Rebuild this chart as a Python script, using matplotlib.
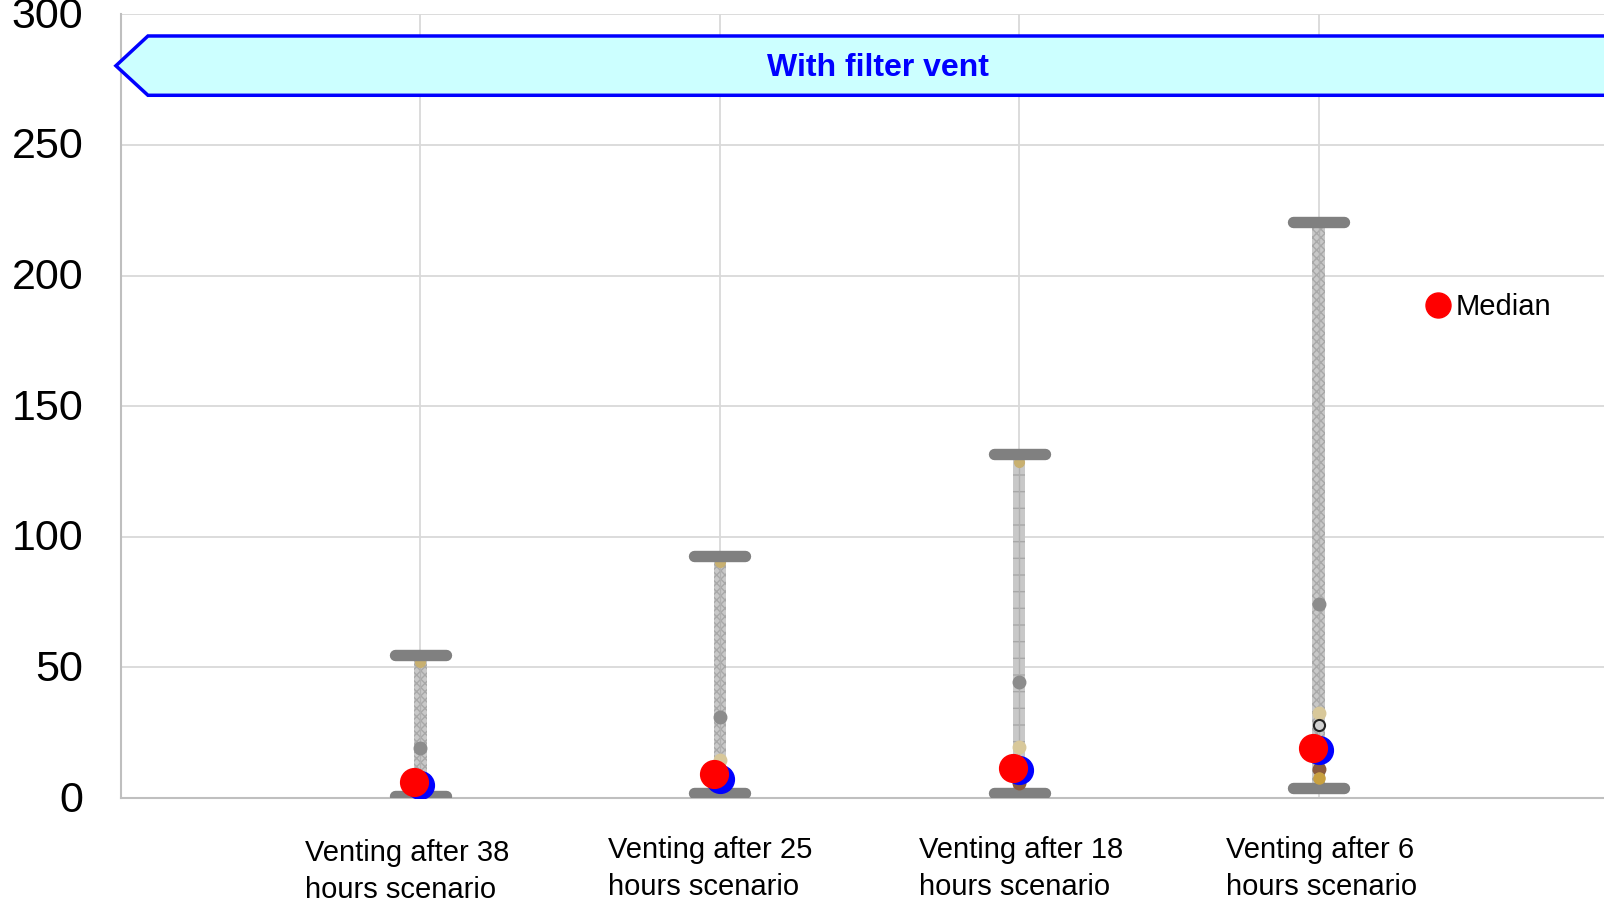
import numpy as np
import matplotlib
matplotlib.use("Agg")
from matplotlib import pyplot as plt
from matplotlib.patches import Polygon
from matplotlib.lines import Line2D
from matplotlib.transforms import ScaledTranslation, blended_transform_factory

plt.rcParams['font.family'] = ['Liberation Sans', 'DejaVu Sans']

categories = ["Venting after 38\nhours scenario", "Venting after 25\nhours scenario",
              "Venting after 18\nhours scenario", "Venting after 6\nhours scenario"]
max_vals = [54.7, 92.6, 131.5, 220.4]
min_vals = [0.8, 1.9, 1.9, 3.8]
mean_vals = [19.1, 31.1, 44.4, 74.2]
median_vals = [6.1, 9.2, 11.5, 19.3]
blue_vals = [5.0, 7.3, 10.7, 18.4]
tan_vals = [np.nan, 14.5, 19.6, 32.4]
tan_top_vals = [52.2, 90.4, 128.7, np.nan]
brown_vals = [np.nan, np.nan, 5.7, 11.0]
gold_vals = [np.nan, np.nan, np.nan, 7.5]
open_vals = [np.nan, np.nan, np.nan, 27.9]

# label layout tweaks (pixels)
label_dx = [-12.8, -9.2, 1.5, 3.1]
label_dy = [-3, 0, 0, 0]

x = np.arange(1, len(categories) + 1)

fig = plt.figure(figsize=(16.04, 9.01), dpi=100)
ax = fig.add_axes([121/1604, 1 - 798/901, 1 - 121/1604, (798 - 14.3)/901])
ax.set_xlim(0, (1604 - 121)/299.4)
ax.set_ylim(0, 300)

# grid
ax.set_yticks(np.arange(0, 301, 50))
ax.set_xticks(x)
ax.set_xticklabels([])
ax.tick_params(axis='y', labelsize=31, length=0, pad=27)
ax.tick_params(axis='x', length=0)
for lbl in ax.get_yticklabels():
    lbl.set_transform(lbl.get_transform() + ScaledTranslation(0, 2/100, fig.dpi_scale_trans))
ax.grid(True, color='#d9d9d9', linewidth=1.3)
ax.set_axisbelow(True)
for s in ['top', 'right']:
    ax.spines[s].set_visible(False)
for s in ['left', 'bottom']:
    ax.spines[s].set_color('#bfbfbf')
    ax.spines[s].set_linewidth(1.5)

# category labels
trans = blended_transform_factory(ax.transData, ax.transAxes)
for i in range(len(x)):
    t = trans + ScaledTranslation(label_dx[i]/100, (-38 + label_dy[i])/100, fig.dpi_scale_trans)
    ax.text(x[i], 0, categories[i], transform=t, fontsize=21, ha='center', va='top',
            multialignment='left', linespacing=1.4)

# range bars
heights = [mx - mn for mx, mn in zip(max_vals, min_vals)]
hatches = ['xxxx', 'xxxx', '-', 'xxxx']
for i in range(len(x)):
    ax.bar(x[i], heights[i], bottom=min_vals[i], width=0.042, color='#c8c8c8',
           edgecolor='#a8a8a8', hatch=hatches[i], linewidth=0, zorder=2)
ax.vlines(x, min_vals, max_vals, color='#b0b0b0', linewidth=1, zorder=2)

# caps
for i in range(len(x)):
    ax.plot([x[i] - 0.085, x[i] + 0.085], [max_vals[i], max_vals[i]], color='#808080',
            linewidth=8.2, solid_capstyle='round', zorder=3)
    ax.plot([x[i] - 0.085, x[i] + 0.085], [min_vals[i], min_vals[i]], color='#808080',
            linewidth=8.2, solid_capstyle='round', zorder=3)

# dots
ax.plot(x, mean_vals, 'o', color='#8c8c8c', ms=9, zorder=4)
ax.plot(x, tan_top_vals, 'o', color='#c8b070', ms=7, zorder=2.5)
ax.plot(x, tan_vals, 'o', color='#d8c89a', ms=9, zorder=4)
ax.plot(x, open_vals, 'o', mfc='#d0d0d0', mec='#222222', mew=1.5, ms=8, zorder=4)
ax.plot(x, brown_vals, 'o', color='#8b5a3c', ms=9, zorder=4)
ax.plot(x, gold_vals, 'o', color='#c8a040', ms=8, zorder=4)
ax.plot(x, blue_vals, 'o', color='#0000ff', ms=20, zorder=5)
ax.plot(x - 0.02, median_vals, 'o', color='#ff0000', ms=20, zorder=6)

# banner
x_tip, x_body, x_end = -0.017, 0.09, 5.2
y_top, y_mid, y_bot = 291.7, 280.3, 269.0
banner = Polygon([[x_tip, y_mid], [x_body, y_top], [x_end, y_top], [x_end, y_bot], [x_body, y_bot]],
                 closed=True, facecolor='#ccffff', edgecolor='#0000ff', linewidth=2.5,
                 clip_on=False, zorder=7)
ax.add_patch(banner)
ax.text(2.528, y_mid - 0.8, "With filter vent", color='#0000ff', fontsize=23, fontweight='bold',
        ha='center', va='center', zorder=8)

# legend
handle = Line2D([], [], marker='o', color='#ff0000', ls='', ms=18)
ax.legend([handle], ['Median'], loc='center left', bbox_to_anchor=(1423.5/1604, 1 - 307/901),
          bbox_transform=fig.transFigure, frameon=False, fontsize=21, handlelength=1,
          handletextpad=0.1, borderpad=0, borderaxespad=0)

fig.savefig('out.png', dpi=100)
